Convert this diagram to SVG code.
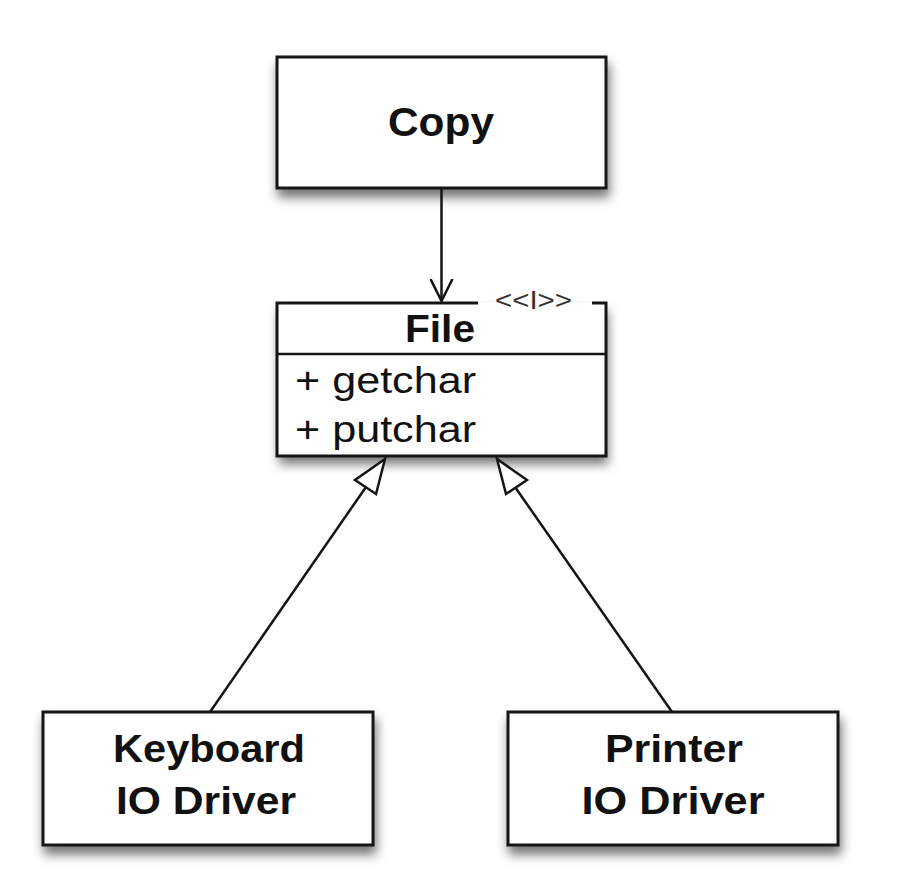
<svg xmlns="http://www.w3.org/2000/svg" width="908" height="892" viewBox="0 0 908 892">
  <defs>
    <filter id="shadow" x="-10%" y="-15%" width="125%" height="145%">
      <feDropShadow dx="2" dy="8" stdDeviation="5.5" flood-color="#000" flood-opacity="0.55"/>
    </filter>
    <marker id="open-arrow" viewBox="0 0 24 24" refX="22" refY="12" markerWidth="24" markerHeight="24" markerUnits="userSpaceOnUse" orient="auto">
      <path d="M0,1 L22,12 L0,23" fill="none" stroke="#111" stroke-width="2.5"/>
    </marker>
    <style>
      .box { fill: #fff; stroke: #151515; stroke-width: 3; }
      .edge { fill: none; stroke: #151515; stroke-width: 3; }
      .title { font-family: "Liberation Sans", Arial, sans-serif; font-weight: bold; fill: #111; text-anchor: middle; }
      .member { font-family: "Liberation Sans", Arial, sans-serif; font-size: 36px; fill: #111; }
      .stereo { font-family: "Liberation Sans", Arial, sans-serif; font-size: 25px; fill: #333; }
      .line { stroke: #151515; stroke-width: 2.5; fill: none; }
      .tri { stroke: #151515; stroke-width: 2.5; fill: #fff; stroke-linejoin: miter; }
    </style>
  </defs>
  <rect width="908" height="892" fill="#fff"/>

  <g id="copy">
    <rect class="box" x="277" y="57" width="329" height="131" filter="url(#shadow)"/>
    <text class="title" x="441" y="136" font-size="41" textLength="106" lengthAdjust="spacingAndGlyphs">Copy</text>
  </g>

  <g id="file">
    <rect x="277" y="303" width="329" height="153" fill="#fff" filter="url(#shadow)"/>
    <path class="edge" d="M478,303 L277,303 L277,456 L606,456 L606,303 L592,303"/>
    <line class="line" x1="277" y1="354" x2="606" y2="354" stroke-width="3"/>
    <text class="stereo" x="495" y="309" textLength="77" lengthAdjust="spacingAndGlyphs">&lt;&lt;I&gt;&gt;</text>
    <text class="title" x="440" y="342" font-size="39" textLength="70" lengthAdjust="spacingAndGlyphs">File</text>
    <text class="member" x="295" y="393" textLength="181" lengthAdjust="spacingAndGlyphs">+ getchar</text>
    <text class="member" x="295" y="442" textLength="181" lengthAdjust="spacingAndGlyphs">+ putchar</text>
  </g>

  <g id="keyboard">
    <rect class="box" x="43" y="712" width="330" height="133" filter="url(#shadow)"/>
    <text class="title" x="209" y="762" font-size="38" textLength="192" lengthAdjust="spacingAndGlyphs">Keyboard</text>
    <text class="title" x="206" y="814" font-size="38" textLength="180" lengthAdjust="spacingAndGlyphs">IO Driver</text>
  </g>

  <g id="printer">
    <rect class="box" x="508" y="712" width="330" height="133" filter="url(#shadow)"/>
    <text class="title" x="674" y="762" font-size="38" textLength="138" lengthAdjust="spacingAndGlyphs">Printer</text>
    <text class="title" x="673" y="814" font-size="38" textLength="183" lengthAdjust="spacingAndGlyphs">IO Driver</text>
  </g>

  <g id="connectors">
    <line class="line" x1="441.5" y1="188" x2="441.5" y2="301" marker-end="url(#open-arrow)"/>
    <line class="line" x1="210" y1="712" x2="366" y2="487"/>
    <polygon class="tri" points="385,459 355,480 376,494"/>
    <line class="line" x1="672" y1="712" x2="515" y2="487"/>
    <polygon class="tri" points="497,459 506,494 527,480"/>
  </g>
</svg>
